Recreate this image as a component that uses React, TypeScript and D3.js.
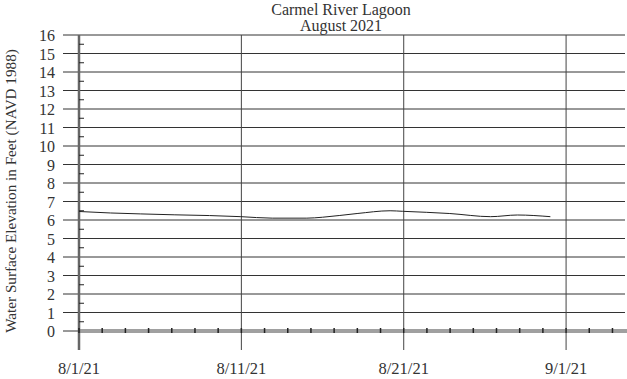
import React from "react";
import * as d3 from "d3";

const titleLines = ["Carmel River Lagoon", "August 2021"];
const yLabel = "Water Surface Elevation in Feet (NAVD 1988)";
const yTicks = d3.range(0, 17);
const xTickDays = [0, 31 / 3, 62 / 3, 31];
const xTickLabels = ["8/1/21", "8/11/21", "8/21/21", "9/1/21"];
const dataDays = [0, 2, 3.9, 6.1, 8.3, 10.3, 12.3, 14.5, 15.5, 17.7, 19.8, 20.6, 23.6, 26.2, 27.9, 30];
const dataValues = [6.46, 6.38, 6.33, 6.28, 6.24, 6.18, 6.1, 6.1, 6.15, 6.35, 6.5, 6.47, 6.35, 6.18, 6.27, 6.18];

export default function App() {
  const W = 627, H = 379;
  const left = 79, right = 625, top = 35, bottom = 331;
  const x = d3.scaleLinear().domain([0, 34.75]).range([left, right]);
  const y = d3.scaleLinear().domain([0, 16]).range([bottom, top]);
  const minorX = d3.range(0, 34.75, 31 / 21);
  const minorY = d3.range(0.5, 16, 1);
  const pts = dataDays.map((d, i) => [d, dataValues[i]] as [number, number]);
  const line = d3.line<[number, number]>().curve(d3.curveMonotoneX).x(d => x(d[0])).y(d => y(d[1]));
  const font = "'Liberation Serif', 'Times New Roman', serif";
  return (
    <svg width={W} height={H} style={{ position: "absolute", left: 0, top: 0, background: "#fff" }} fontFamily={font}>
      <rect width={W} height={H} fill="#fff" />
      {titleLines.map((t, i) => (
        <text key={t} x={341} y={15 + i * 16} textAnchor="middle" fontSize={16} fill="#333">{t}</text>
      ))}
      {yTicks.map(v => (
        <line key={"g" + v} x1={63} x2={right} y1={y(v)} y2={y(v)} stroke="#333" strokeWidth={1} />
      ))}
      {xTickDays.slice(1).map((d, i) => (
        <line key={"v" + i} x1={x(d)} x2={x(d)} y1={top} y2={350} stroke="#444" strokeWidth={1} />
      ))}
      <rect x={left} y={bottom - 2} width={W - left} height={4} fill="#a0a0a0" />
      <line x1={left} x2={left} y1={top} y2={350} stroke="#666" strokeWidth={2.5} />
      {minorY.map(v => (
        <line key={"my" + v} x1={left} x2={left + 5} y1={y(v)} y2={y(v)} stroke="#222" strokeWidth={1} />
      ))}
      {minorX.map((d, i) => (
        <line key={"mx" + i} x1={x(d)} x2={x(d)} y1={bottom - 3} y2={bottom + 2} stroke="#222" strokeWidth={1.5} />
      ))}
      {yTicks.map(v => (
        <text key={"yl" + v} x={55} y={y(v) + 6} textAnchor="end" fontSize={16} fill="#333">{v}</text>
      ))}
      {xTickDays.map((d, i) => (
        <text key={"xl" + i} x={x(d)} y={374} textAnchor="middle" fontSize={16.5} fill="#333">{xTickLabels[i]}</text>
      ))}
      <text transform={`translate(16,${(top + bottom) / 2 + 8}) rotate(-90)`} textAnchor="middle" fontSize={15.2} fill="#333">{yLabel}</text>
      <path d={line(pts) || ""} fill="none" stroke="#222" strokeWidth={1} />
    </svg>
  );
}
